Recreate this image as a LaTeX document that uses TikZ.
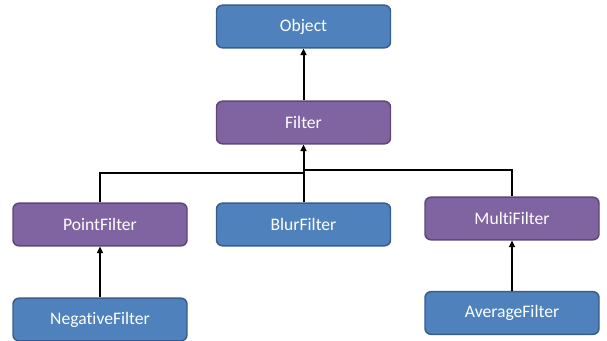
\documentclass[tikz,border=0pt]{standalone}
\usepackage{fontspec}
\setmainfont[Ligatures={NoCommon}]{Carlito}
\usetikzlibrary{arrows.meta}
\definecolor{bluefill}{HTML}{4F81BD}
\definecolor{blueline}{HTML}{385D8A}
\definecolor{purplefill}{HTML}{8064A2}
\definecolor{purpleline}{HTML}{5C4776}
\tikzset{
  classbox/.style={rounded corners=4.5pt, line width=1.1pt, minimum width=130.5pt,
    minimum height=32pt, inner sep=0pt, text=white, font=\fontsize{13.2}{15}\selectfont},
  plainclass/.style={classbox, fill=bluefill, draw=blueline},
  abstractclass/.style={classbox, fill=purplefill, draw=purpleline},
  link/.style={line width=1.5pt, black},
  inherits/.style={link, -{Triangle[length=5pt,width=4.5pt]}}
}
\begin{document}
\begin{tikzpicture}[x=0.75pt,y=-0.75pt]
\useasboundingbox (0,0) rectangle (607,341);
\node[plainclass]    (object)   at (303.5,26.5)  {Object};
\node[abstractclass] (filter)   at (303.5,122.5) {Filter};
\node[abstractclass] (point)    at (100,224.5)   {PointFilter};
\node[plainclass]    (blur)     at (303.5,224.5) {BlurFilter};
\node[abstractclass] (multi)    at (512,218.5)   {MultiFilter};
\node[plainclass]    (negative) at (100,319.5)   {NegativeFilter};
\node[plainclass]    (average)  at (512,313)     {AverageFilter};
% branch points on the shared trunk
\coordinate (leftjoin)  at (303.5,173);
\coordinate (rightjoin) at (303.5,170);
\draw[inherits] (filter) -- (object);
\draw[inherits] (blur) -- (filter);
\draw[link] (point.north) |- (leftjoin);
\draw[link] (multi.north) |- (rightjoin);
\draw[inherits] (negative) -- (point);
\draw[inherits] (average) -- (multi);
\end{tikzpicture}
\end{document}
